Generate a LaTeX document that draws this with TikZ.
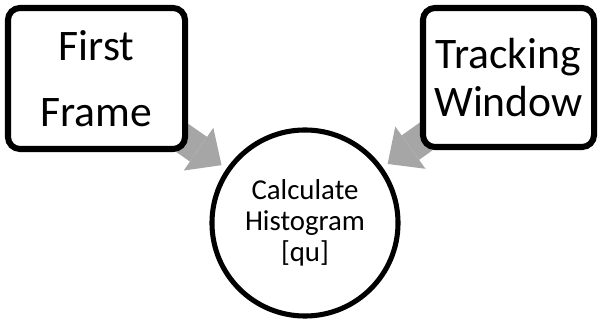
\documentclass[tikz,border=0pt]{standalone}
\usepackage{fontspec}
\setmainfont{Carlito}
\usetikzlibrary{arrows.meta,backgrounds}
\definecolor{arrowgray}{RGB}{166,166,166}
\begin{document}
\begin{tikzpicture}[
		x=0.025cm, y=-0.025cm,
		box/.style={draw, fill=white, line width=4.3pt, rounded corners=0.3cm, align=center, inner sep=0pt},
		hist/.style={draw, circle, line width=3.6pt, minimum size=4.65cm, align=center, inner sep=0pt, font=\fontsize{20.5}{22}\selectfont},
		arrow/.style={-{Triangle[length=0.7cm, width=1.3cm, line width=0pt]}, line width=0.75cm, draw=arrowgray, shorten >=0.15cm},
	]
	\useasboundingbox (0, 0) rectangle (600, 320);
	\node[box, minimum width=4.425cm, minimum height=3.525cm, font=\fontsize{31}{47}\selectfont] (first) at (96.5, 78.5) {First\\Frame};
	\node[box, minimum width=4.275cm, minimum height=3.475cm, font=\fontsize{31}{34}\selectfont] (track) at (508.5, 77.5) {Tracking\\Window};
	\node[hist] (calc) at (305, 223) {Calculate\\Histogram\\{[qu]}};

	\begin{scope}[on background layer]
		\draw[arrow] (first.center) -- (calc);
		\draw[arrow] (track.center) -- (calc);
	\end{scope}
\end{tikzpicture}
\end{document}
